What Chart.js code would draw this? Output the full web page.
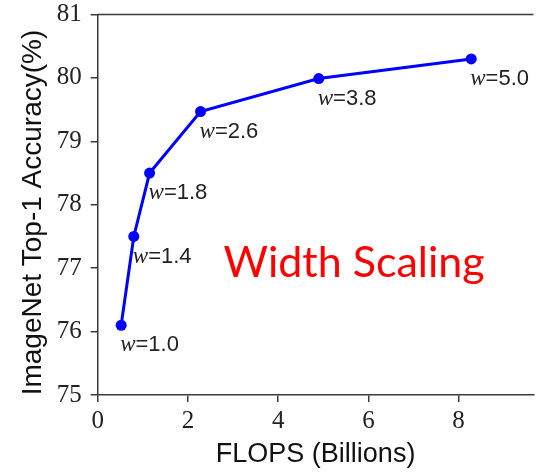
<!DOCTYPE html>
<html>
<head>
<meta charset="utf-8">
<script src="https://cdn.jsdelivr.net/npm/chart.js@4"></script>
<style>
  body { margin: 0; background: #fff; }
</style>
</head>
<body>
<canvas id="myChart" width="539" height="473"></canvas>
<script>
const flops = [0.52, 0.80, 1.15, 2.28, 4.90, 8.28];
const accuracy = [76.1, 77.5, 78.5, 79.47, 79.99, 80.3];
const widthLabels = ["1.0", "1.4", "1.8", "2.6", "3.8", "5.0"];
const xTicks = [0, 2, 4, 6, 8];
const yTicks = [75, 76, 77, 78, 79, 80, 81];
const axisColor = "#3a3a3a";

// w=... labels under the points, top frame line and the red note
const extras = {
  id: "extras",
  afterDatasetsDraw(chart) {
    const ctx = chart.ctx;
    const meta = chart.getDatasetMeta(0);
    ctx.save();
    ctx.fillStyle = "#222";
    ctx.textBaseline = "middle";
    meta.data.forEach((pt, i) => {
      let x = pt.x - 1;
      const y = pt.y + 20;
      ctx.font = "italic 23px 'Liberation Serif'";
      ctx.fillText("w", x, y);
      x += ctx.measureText("w").width;
      ctx.font = "22px 'Liberation Sans'";
      ctx.fillText("=" + widthLabels[i], x, y);
    });

    const a = chart.chartArea;
    ctx.strokeStyle = axisColor;
    ctx.lineWidth = 1.5;
    ctx.beginPath();
    ctx.moveTo(a.left, a.top);
    ctx.lineTo(a.right, a.top);
    ctx.stroke();

    ctx.font = "43px Lato";
    ctx.fillStyle = "#ff0000";
    ctx.textBaseline = "alphabetic";
    ctx.fillText("Width Scaling", chart.scales.x.getPixelForValue(2.79), chart.scales.y.getPixelForValue(76.86));
    ctx.restore();
  }
};

const ctx = document.getElementById("myChart").getContext("2d");
const myChart = new Chart(ctx, {
  type: "line",
  data: {
    datasets: [
      {
        data: flops.map((f, i) => ({ x: f, y: accuracy[i] })),
        borderColor: "#0000ff",
        backgroundColor: "#0000ff",
        borderWidth: 3,
        pointRadius: 5.5,
        pointBackgroundColor: "#0000ff",
        pointBorderWidth: 0,
        tension: 0,
        clip: false,
      },
    ],
  },
  options: {
    responsive: false,
    animation: false,
    devicePixelRatio: 1,
    layout: { padding: { top: 14.5, right: 0, left: 0, bottom: 0 } },
    plugins: { legend: { display: false }, tooltip: { enabled: false } },
    scales: {
      x: {
        type: "linear",
        min: 0,
        max: 9.66,
        afterBuildTicks: (s) => { s.ticks = xTicks.map((v) => ({ value: v })); },
        afterFit: (s) => { s.height = 78; s.paddingLeft = 0; s.paddingRight = 0; },
        grid: { drawOnChartArea: false, drawTicks: true, tickLength: 7, color: axisColor, lineWidth: 1.5 },
        border: { color: axisColor, width: 1.5 },
        ticks: { font: { family: "Liberation Serif", size: 25 }, color: "#222", padding: 4, maxRotation: 0 },
        title: {
          display: true,
          text: "FLOPS (Billions)",
          font: { family: "Liberation Sans", size: 27 },
          color: "#111",
          padding: { top: 0, bottom: 2 },
        },
      },
      y: {
        min: 75,
        max: 81,
        afterBuildTicks: (s) => { s.ticks = yTicks.map((v) => ({ value: v })); },
        afterFit: (s) => { s.width = 97.7; s.paddingTop = 0; s.paddingBottom = 0; },
        grid: { drawOnChartArea: false, drawTicks: true, tickLength: 7, color: axisColor, lineWidth: 1.5 },
        border: { color: axisColor, width: 1.5 },
        ticks: { font: { family: "Liberation Serif", size: 25 }, color: "#222", padding: 9 },
        title: {
          display: true,
          text: "ImageNet Top-1 Accuracy(%)  ",
          font: { family: "Liberation Sans", size: 28 },
          color: "#111",
          padding: { top: 16, bottom: 0 },
        },
      },
    },
  },
  plugins: [extras],
});
</script>
</body>
</html>
